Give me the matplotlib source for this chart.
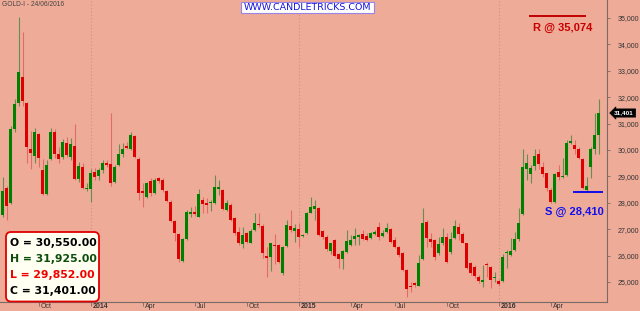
import matplotlib
matplotlib.use("Agg")
import matplotlib.pyplot as plt
import numpy as np
import pandas as pd
from matplotlib.patches import FancyBboxPatch, Rectangle
from matplotlib.transforms import IdentityTransform, blended_transform_factory

# ---------------- data (weekly GOLD-I candles) ----------------
opens = [27540, 28550, 28000, 30780, 31770, 32780, 31770, 30040, 29770, 30610,
         29240, 28330, 29650, 30670, 29840, 29750, 30280, 29750, 30150, 28900,
         29370, 28510, 28540, 29180, 29020, 29240, 29520, 29470, 28800, 29430,
         29850, 30160, 30040, 30530, 29660, 28450, 28210, 28830, 28380, 28950,
         28860, 28450, 28040, 27310, 26810, 25810, 26620, 27590, 27640, 27480,
         28100, 28000, 27980, 28000, 28510, 28490, 27730, 27920, 27410, 26900,
         26440, 26840, 26490, 26970, 27200, 27130, 25990, 25930, 26400, 26400,
         25350, 26360, 27130, 26950, 27020, 26740, 26840, 27630, 27750, 27790,
         26930, 26690, 26190, 26590, 26050, 25860, 26150, 26400, 26620, 26720,
         26820, 26740, 26650, 26810, 27070, 26740, 26900, 27020, 26590, 26340,
         26090, 25460, 24850, 24960, 24860, 25860, 27290, 26640, 26590, 26110,
         26470, 26690, 26150, 26650, 27100, 26820, 26470, 25710, 25560, 25200,
         25000, 25700, 25580, 25150, 25040, 25040, 26080, 26020, 26210, 26620,
         27560, 29290, 29080, 29390, 29840, 29370, 29120, 28490, 28040, 29170,
         28970, 29050, 30280, 30190, 30040, 29650, 28490, 29340, 30040, 30550]
highs = [28970, 28640, 30910, 31920, 35020, 34480, 31830, 30730, 30850, 30660,
         29650, 29620, 30850, 30800, 30130, 30400, 30480, 30440, 30990, 29560,
         29500, 28760, 29270, 29300, 29300, 29620, 29620, 31390, 29430, 30230,
         30250, 30300, 30700, 30580, 29750, 28740, 28800, 28930, 28930, 28990,
         28930, 28490, 28110, 27350, 26840, 26650, 27720, 27850, 27880, 28520,
         28230, 28170, 28100, 29050, 28860, 28530, 28100, 27980, 27470, 27100,
         27100, 26900, 27000, 27600, 27600, 27200, 26340, 26490, 26800, 26440,
         26360, 27350, 27730, 27200, 27220, 26800, 27650, 28230, 28100, 27850,
         26970, 26780, 26490, 26620, 26090, 26200, 26970, 26780, 27030, 26820,
         26970, 26840, 26910, 26970, 27290, 26970, 27220, 27050, 26690, 26360,
         26150, 25480, 25010, 25010, 26020, 27790, 27350, 26840, 26620, 26720,
         27060, 26840, 26900, 27340, 27220, 26910, 26490, 25770, 25640, 25270,
         25640, 25740, 25620, 25390, 25100, 26050, 26210, 26670, 26910, 27790,
         30040, 29850, 29430, 30040, 30030, 29560, 29140, 28550, 29140, 29430,
         29680, 30380, 30560, 30380, 30130, 29680, 28970, 30130, 31390, 31925]
lows = [27480, 27350, 27950, 30700, 31670, 31670, 29500, 29270, 29500, 29370,
        28280, 28290, 29620, 29690, 29500, 29650, 29750, 29620, 28860, 28800,
        28510, 28460, 28040, 28860, 28860, 29120, 29370, 28640, 28760, 29400,
        29750, 30040, 30000, 29680, 28110, 27850, 28170, 28240, 28330, 28760,
        28420, 28020, 27290, 26570, 25770, 25770, 26590, 27480, 27500, 27450,
        27600, 27600, 27700, 27950, 28300, 27720, 27700, 27320, 26780, 26400,
        26270, 26490, 26470, 26940, 27100, 25900, 25200, 25430, 25700, 25730,
        25250, 26340, 26900, 26500, 26340, 26700, 26820, 27600, 27350, 26740,
        26620, 26190, 26060, 25960, 25520, 25480, 26090, 26360, 26400, 26400,
        26590, 26570, 26620, 26780, 26590, 26690, 26870, 26490, 26280, 25960,
        25430, 24450, 24630, 24800, 24830, 25830, 26340, 26340, 25830, 26020,
        26400, 25710, 26050, 26620, 26590, 26470, 25480, 25270, 25140, 24950,
        24800, 25200, 24760, 25010, 24850, 24990, 25530, 25990, 26190, 26570,
        27540, 28860, 28760, 29240, 29270, 28990, 28460, 27980, 28010, 28860,
        28930, 29020, 30230, 29850, 29650, 28510, 28420, 28940, 29850, 29852]
closes = [28450, 27880, 30780, 31730, 32950, 31870, 30100, 29890, 30700, 29680,
          28320, 29430, 30690, 29840, 29660, 30290, 29810, 30220, 28900, 29410,
          28550, 28540, 29140, 28990, 29240, 29500, 29440, 28740, 29370, 29850,
          30050, 30090, 30560, 29720, 28360, 28380, 28740, 28380, 28860, 28840,
          28490, 28070, 27320, 26840, 25860, 26620, 27640, 27640, 27570, 28320,
          27940, 27930, 28040, 28590, 28590, 27750, 27980, 27350, 26840, 26470,
          26780, 26530, 26950, 27250, 27150, 26090, 25900, 26470, 26360, 25770,
          26340, 27160, 26970, 27060, 26720, 26780, 27630, 27850, 27880, 26780,
          26690, 26240, 26470, 25990, 25860, 26170, 26570, 26590, 26760, 26780,
          26640, 26590, 26870, 26880, 26690, 26870, 27050, 26520, 26340, 26020,
          25460, 24740, 24820, 24880, 25730, 27220, 26650, 26520, 25930, 26440,
          26690, 25770, 26620, 27130, 26820, 26490, 25520, 25350, 25230, 25040,
          25070, 25630, 25080, 25190, 24920, 25960, 26130, 26170, 26620, 27250,
          29370, 29500, 29310, 29770, 29460, 29090, 28550, 28020, 29090, 28970,
          29030, 30280, 30350, 30030, 29680, 28550, 28640, 30040, 30570, 31401]

# weekly bar dates (two weeks missing in the Q2-2015 feed)
week_dates = pd.date_range("2013-08-02", "2016-06-24", freq="W-FRI")
missing_weeks = pd.to_datetime(["2015-05-01", "2015-05-08"])
week_dates = week_dates.drop(missing_weeks)

symbol_title = "GOLD-I - 24/06/2016"
watermark = "WWW.CANDLETRICKS.COM"
resistance = 35074
support = 28410
resistance_label = "R @ 35,074"
support_label = "S @ 28,410"
ohlc_labels = ["O = 30,550.00", "H = 31,925.00", "L = 29,852.00", "C = 31,401.00"]
last_label = "31,401"
y_ticks = [25000, 26000, 27000, 28000, 29000, 30000, 31000, 32000, 33000, 34000, 35000]
month_names = {4: "Apr", 7: "Jul", 10: "Oct"}

# ---------------- styling ----------------
BG = "#EEAB98"
GREEN = "#008000"
RED = "#DD0000"
GREEN_WICK = "#678E50"
RED_WICK = "#E46A63"

plt.rcParams["font.family"] = ["Liberation Sans", "DejaVu Sans"]

W, H = 640, 311
fig = plt.figure(figsize=(W / 100, H / 100), dpi=100)
fig.patch.set_facecolor(BG)
ax = fig.add_axes([0, 9 / H, 607 / W, 302 / H])
ax.set_facecolor(BG)

o = np.array(opens, float)
h = np.array(highs, float)
l = np.array(lows, float)
c = np.array(closes, float)
x = np.arange(len(o))
up = c >= o

ax.set_xlim(-0.625, 151.1)
ax.set_ylim(24242, 35682)

# month / year ticks from the bar dates
tick_idx, tick_lab, tick_bold = [], [], []
for i in range(1, len(week_dates)):
    m0, m1 = week_dates[i - 1].month, week_dates[i].month
    if m0 != m1 and m1 in (1, 4, 7, 10):
        tick_idx.append(i)
        if m1 == 1:
            tick_lab.append(str(week_dates[i].year))
            tick_bold.append(True)
        else:
            tick_lab.append(month_names[m1])
            tick_bold.append(False)
for i, b in zip(tick_idx, tick_bold):
    if b:
        ax.axvline(i, color="#D08F85", lw=0.8, ls=(0, (1, 2)), zorder=0.5)

# wicks
ax.vlines(x[up], l[up], h[up], color=GREEN_WICK, lw=0.8, zorder=2)
ax.vlines(x[~up], l[~up], h[~up], color=RED_WICK, lw=0.8, zorder=2)
# bodies
body_bottom = np.minimum(o, c)
body_height = np.maximum(np.abs(c - o), 40)
ax.bar(x, body_height, bottom=body_bottom, width=0.7,
       color=np.where(up, GREEN, RED), edgecolor="none", zorder=3)

# support / resistance
ax.hlines(resistance, 131.7, 145.9, color="#C00000", lw=1.4, zorder=4)
ax.annotate(resistance_label, xy=(139.9, resistance), xytext=(0, -11.5),
            textcoords="offset pixels", ha="center", va="center",
            fontsize=8, fontweight="bold", color="#C80000", zorder=5)
ax.hlines(support, 142.5, 150.2, color="#0000EE", lw=1.3, zorder=4)
ax.annotate(support_label, xy=(142.9, support), xytext=(0, -20),
            textcoords="offset pixels", ha="center", va="center",
            fontsize=8, fontweight="bold", color="#1010F0", zorder=5)

# axes
for s in ("top", "left"):
    ax.spines[s].set_visible(False)
for s in ("right", "bottom"):
    ax.spines[s].set_color("#7A6A66")
    ax.spines[s].set_linewidth(0.8)
ax.yaxis.tick_right()
ax.set_yticks(y_ticks)
ax.set_yticklabels([f"{v:,}" for v in y_ticks])
ax.tick_params(axis="y", direction="out", length=2.5, width=0.6, color="#7A6A66",
               labelsize=5.0, labelcolor="#333333", pad=5)
ax.set_xticks(tick_idx)
ax.set_xticklabels([])
ax.tick_params(axis="x", direction="out", length=3, width=0.6, color="#7A6A66")
for i, lab, b in zip(tick_idx, tick_lab, tick_bold):
    ax.annotate(lab, xy=(i, 0), xycoords=("data", "axes fraction"),
                xytext=(2, -1.5), textcoords="offset pixels", ha="left", va="top",
                fontsize=5.0, color="#333333", fontweight="bold" if b else "normal",
                annotation_clip=False)

# last price tag
tr = blended_transform_factory(ax.transAxes, ax.transData)
ax.text(1.012, closes[-1], last_label, transform=tr, ha="left", va="center",
        fontsize=4.6, color="white", fontweight="bold", clip_on=False, zorder=6,
        bbox=dict(boxstyle="larrow,pad=0.25", fc="black", ec="black", lw=0.5))

# title
fig.text(2 / W, 1 - 4.5 / H, symbol_title, ha="left", va="center",
         fontsize=4.8, color="#444444")

# watermark box
fig.add_artist(Rectangle((241, H - 13.3), 133.3, 11.6, transform=IdentityTransform(),
                         fc="white", ec="#9C84E6", lw=0.8, zorder=5))
fig.text(307.5 / W, 1 - 7.6 / H, watermark, ha="center", va="center",
         fontsize=6.8, color="#1414DC", family="DejaVu Sans", zorder=6)

# OHLC box
fig.add_artist(FancyBboxPatch((6, H - 301.5), 93, 69.5, transform=IdentityTransform(),
                              boxstyle="round,pad=0,rounding_size=5",
                              fc="#FFFFF2", ec="#E00000", lw=1.3, zorder=5))
ohlc_colors = ["#000000", "#0B4D0B", "#F00000", "#000000"]
for k, (txt, col) in enumerate(zip(ohlc_labels, ohlc_colors)):
    fig.text(10 / W, 1 - (242.5 + 16 * k) / H, txt, ha="left", va="center",
             fontsize=7.8, fontweight="bold", color=col, family="DejaVu Sans", zorder=6)

fig.savefig("out.png", dpi=100, facecolor=BG)
